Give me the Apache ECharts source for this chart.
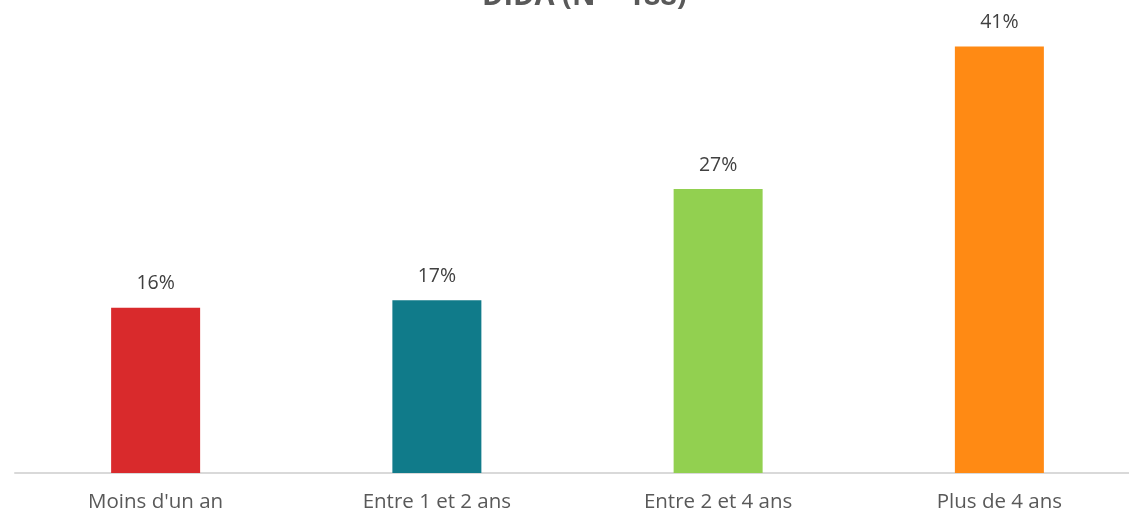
<!DOCTYPE html>
<html>
<head>
<meta charset="utf-8">
<script src="https://cdn.jsdelivr.net/npm/echarts@6/dist/echarts.min.js"></script>
<style>
  html, body { margin: 0; padding: 0; background: #fff; overflow: hidden; }
  /* the plot runs a little past the right edge, as in the original */
  #chart { width: 1140px; height: 515px; }
</style>
</head>
<body>
<div id="chart"></div>
<script>
  // data
  var categories = ['Moins d\'un an', 'Entre 1 et 2 ans', 'Entre 2 et 4 ans', 'Plus de 4 ans']
  var values = [15.9, 16.6, 27.3, 41.0]
  var colors = ['#D92A2C', '#107B8A', '#92D050', '#FF8A14']

  var chart = echarts.init(document.getElementById('chart'))
  var option = {
    title: {
      text: 'DIDA (N = 188)',
      left: 477,
      top: -23,
      textStyle: {
        fontFamily: 'Open Sans',
        fontSize: 29,
        fontWeight: 'bold',
        color: '#595959'
      }
    },
    grid: { left: 15, right: 0, top: 5, bottom: 42 },
    xAxis: {
      type: 'category',
      data: categories,
      axisLine: { lineStyle: { color: '#D9D9D9', width: 2 } },
      axisTick: { show: false },
      axisLabel: {
        fontFamily: 'Open Sans',
        fontSize: 20.5,
        color: '#595959',
        margin: 19
      }
    },
    yAxis: {
      type: 'value',
      min: 0,
      max: 45,
      show: false,
      splitLine: { show: false }
    },
    series: [{
      type: 'bar',
      barWidth: 89,
      data: values.map(function (v, i) {
        return { value: v, itemStyle: { color: colors[i] } }
      }),
      label: {
        show: true,
        position: 'top',
        distance: 14,
        fontFamily: 'Open Sans',
        fontSize: 19.5,
        color: '#404040',
        formatter: function (p) { return Math.round(p.value) + '%' }
      }
    }]
  }
  chart.setOption(option)
</script>
</body>
</html>
